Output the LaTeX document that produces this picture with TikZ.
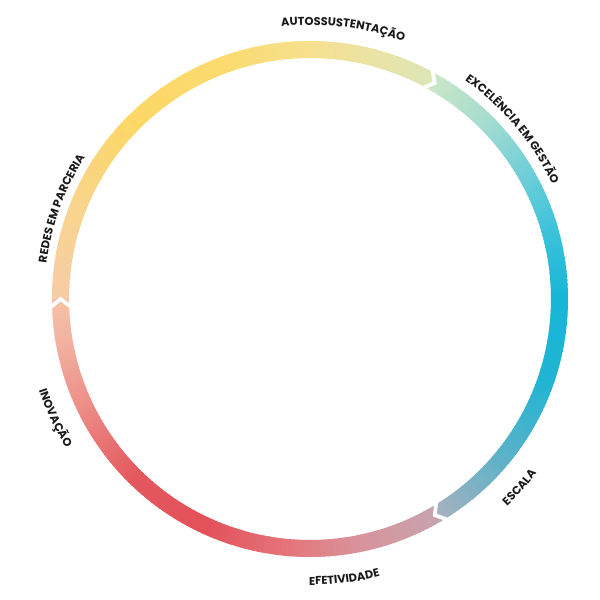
\documentclass[tikz,border=0pt]{standalone}
\usepackage{fontspec}
\newfontfamily\labelfont{Poppins}
\usetikzlibrary{decorations.text}
\definecolor{ink}{RGB}{26,26,26}
% ring colours, clockwise from the left
\definecolor{peachA}{HTML}{F6CBA6}
\definecolor{sandA}{HTML}{F9D490}
\definecolor{sun}{HTML}{FDD766}
\definecolor{sunB}{HTML}{FBDB6E}
\definecolor{straw}{HTML}{F6E08E}
\definecolor{lime}{HTML}{EBE3A5}
\definecolor{limeEnd}{HTML}{DCE6B8}
\definecolor{mint}{HTML}{C9E6C8}
\definecolor{aqua}{HTML}{A6DCD0}
\definecolor{turq}{HTML}{70CFD8}
\definecolor{cyanA}{HTML}{3CC2DA}
\definecolor{cyan}{HTML}{16B6D6}
\definecolor{cyanB}{HTML}{22B4D3}
\definecolor{steel}{HTML}{5DB2C8}
\definecolor{slate}{HTML}{A6B1C0}
\definecolor{mauve}{HTML}{C7A4AE}
\definecolor{rose}{HTML}{D9929A}
\definecolor{coral}{HTML}{E5767B}
\definecolor{scarlet}{HTML}{E3515A}
\definecolor{scarletB}{HTML}{E4585E}
\definecolor{salmon}{HTML}{EC8D88}
\definecolor{apricot}{HTML}{F2B0A0}
\definecolor{peachB}{HTML}{F4C2A5}
\newcommand{\lbl}{\labelfont\bfseries\fontsize{6.5}{7}\selectfont\color{ink}}

\begin{document}
\begin{tikzpicture}[
    notch/.style={white,line width=.075cm,line join=miter},
    toplabel/.style={decorate,decoration={text along path,text align=center,text={|\lbl|#1}}},
    botlabel/.style={decorate,decoration={text along path,text align=center,text={|\lbl|#1}}}
  ]
  \useasboundingbox (0,0) rectangle (12,12);
  \begin{scope}[shift={(6.2,6.02)}]
    \def\ro{5.16} \def\ri{4.82} \def\rm{4.99}
    % gradient ring, one degree at a time
    \foreach \a/\b/\ca/\cb in {180/160/peachA/sandA,160/135/sandA/sun,135/110/sun/sunB,
        110/90/sunB/straw,90/75/straw/lime,75/60/lime/limeEnd,
        60/45/mint/aqua,45/30/aqua/turq,30/15/turq/cyanA,15/0/cyanA/cyan,
        0/-20/cyan/cyanB,-20/-40/cyanB/steel,-40/-60/steel/slate,
        -60/-80/mauve/rose,-80/-95/rose/coral,-95/-115/coral/scarlet,
        -115/-135/scarlet/scarletB,-135/-155/scarletB/salmon,
        -155/-170/salmon/apricot,-170/-180/apricot/peachB}{
      \pgfmathtruncatemacro\n{\a-\b}
      \foreach \i in {1,...,\n}{
        \pgfmathsetmacro\p{100*(\i-0.5)/\n}
        \pgfmathsetmacro\s{\a-\i+1.4}
        \pgfmathsetmacro\e{\a-\i}
        \fill[\cb!\p!\ca] (\s:\ro) arc[start angle=\s,end angle=\e,radius=\ro]
          -- (\e:\ri) arc[start angle=\e,end angle=\s,radius=\ri] -- cycle;
      }
    }
    % chevron cuts
    \foreach \t in {60,180,-60}
      \draw[notch] (\t+2.2:\ro+.07) -- (\t:\rm) -- (\t+2.2:\ri-.07);
    % labels
    \path[toplabel=AUTOSSUSTENTAÇÃO] (113:5.48) arc[start angle=113,end angle=53,radius=5.48];
    \path[toplabel=EXCELÊNCIA EM GESTÃO] (70:5.36) arc[start angle=70,end angle=10,radius=5.36];
    \path[toplabel=REDES EM PARCERIA] (190:5.32) arc[start angle=190,end angle=130,radius=5.32];
    \path[botlabel=ESCALA] (-70:5.72) arc[start angle=-70,end angle=-14,radius=5.72];
    \path[botlabel=EFETIVIDADE] (-113:5.72) arc[start angle=-113,end angle=-53,radius=5.72];
    \path[botlabel=INOVAÇÃO] (175:5.72) arc[start angle=175,end angle=235,radius=5.72];
  \end{scope}
\end{tikzpicture}
\end{document}
